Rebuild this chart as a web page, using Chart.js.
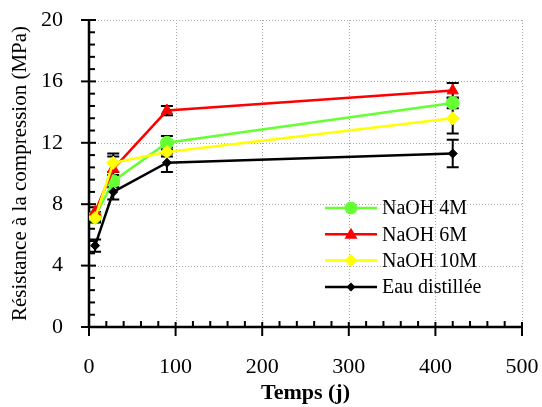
<!DOCTYPE html>
<html>
<head>
<meta charset="utf-8">
<script src="https://cdn.jsdelivr.net/npm/chart.js"></script>
<style>
    body { margin: 0; padding: 0; background: #ffffff; }
    #wrap { width: 542px; height: 407px; }
</style>
</head>
<body>
<div id="wrap"><canvas id="myChart" width="542" height="407"></canvas></div>
<script>
    // Temps de cure (jours)
    const days = [7, 28, 90, 420];

    // Résistance moyenne (MPa) et écarts
    const naoh4 = [7.2, 9.5, 12.0, 14.6];
    const naoh4Err = [0.3, 0.4, 0.45, 0.35];
    const naoh6 = [7.5, 10.3, 14.1, 15.4];
    const naoh6Err = [0.3, 0.8, 0.3, 0.5];
    const naoh10 = [7.1, 10.7, 11.4, 13.6];
    const naoh10Err = [0.3, 0.6, 0.3, 1.0];
    const eau = [5.3, 8.8, 10.7, 11.3];
    const eauErr = [0.4, 0.5, 0.6, 0.9];

    const xTicks = [0, 100, 200, 300, 400, 500];
    const yTicks = [0, 4, 8, 12, 16, 20];

    const FONT = "'Liberation Serif', 'Times New Roman', serif";

    function toPoints(ys) {
        return days.map((d, i) => ({ x: d, y: ys[i] }));
    }

    const series = [
        { label: 'NaOH 4M', data: naoh4, err: naoh4Err, color: 'rgb(102, 255, 51)', style: 'circle', r: 6.5, order: 4 },
        { label: 'NaOH 6M', data: naoh6, err: naoh6Err, color: 'rgb(255, 0, 0)', style: 'triangle', r: 6.5, order: 3 },
        { label: 'NaOH 10M', data: naoh10, err: naoh10Err, color: 'rgb(255, 255, 0)', style: 'rectRot', r: 6.5, order: 2 },
        { label: 'Eau distillée', data: eau, err: eauErr, color: 'rgb(0, 0, 0)', style: 'rectRot', r: 4.5, order: 1 }
    ];

    // Grid, axes with ticks, and error bars drawn under the lines
    const axesPlugin = {
        id: 'axesPlugin',
        beforeDatasetsDraw(chart) {
            const ctx = chart.ctx;
            const xs = chart.scales.x, ys = chart.scales.y;
            const a = chart.chartArea;
            ctx.save();

            // dotted grid
            ctx.strokeStyle = '#a8a8a8';
            ctx.lineWidth = 1;
            ctx.setLineDash([1, 2]);
            yTicks.forEach(v => {
                if (v === 0) return;
                const y = Math.round(ys.getPixelForValue(v)) + 0.5;
                ctx.beginPath(); ctx.moveTo(a.left, y); ctx.lineTo(a.right, y); ctx.stroke();
            });
            xTicks.forEach(v => {
                if (v === 0) return;
                const x = Math.round(xs.getPixelForValue(v)) + 0.5;
                ctx.beginPath(); ctx.moveTo(x, a.top); ctx.lineTo(x, a.bottom); ctx.stroke();
            });
            ctx.setLineDash([]);

            // axis lines
            ctx.strokeStyle = '#000';
            ctx.lineWidth = 2.5;
            const x0 = xs.getPixelForValue(0);
            const y0 = ys.getPixelForValue(0);
            ctx.beginPath(); ctx.moveTo(x0, a.top); ctx.lineTo(x0, y0); ctx.lineTo(a.right, y0); ctx.stroke();

            // y ticks: major every 4, minor every 0.8
            ctx.lineWidth = 2;
            for (let i = 0; i <= 25; i++) {
                const y = ys.getPixelForValue(i * 0.8);
                ctx.beginPath();
                if (i % 5 === 0) { ctx.moveTo(x0 - 8, y); ctx.lineTo(x0 + 7, y); }
                else { ctx.moveTo(x0, y); ctx.lineTo(x0 + 6, y); }
                ctx.stroke();
            }
            // x ticks: major every 100, minor every 20
            for (let i = 0; i <= 25; i++) {
                const x = xs.getPixelForValue(i * 20);
                ctx.beginPath();
                if (i % 5 === 0) { ctx.moveTo(x, y0 - 5); ctx.lineTo(x, y0 + 9); }
                else { ctx.moveTo(x, y0 - 6); ctx.lineTo(x, y0); }
                ctx.stroke();
            }

            // error bars
            ctx.lineWidth = 2;
            series.forEach(s => {
                s.data.forEach((v, i) => {
                    const x = xs.getPixelForValue(days[i]);
                    const yt = ys.getPixelForValue(v + s.err[i]);
                    const yb = ys.getPixelForValue(v - s.err[i]);
                    ctx.beginPath();
                    ctx.moveTo(x, yt); ctx.lineTo(x, yb);
                    ctx.moveTo(x - 6, yt); ctx.lineTo(x + 6, yt);
                    ctx.moveTo(x - 6, yb); ctx.lineTo(x + 6, yb);
                    ctx.stroke();
                });
            });
            ctx.restore();
        },
        afterDraw(chart) {
            // legend inside the plot
            const ctx = chart.ctx;
            ctx.save();
            const lx = 325, lw = 52, tx = 382;
            let ly = 208;
            ctx.font = '20px ' + FONT;
            ctx.textBaseline = 'middle';
            series.forEach(s => {
                ctx.strokeStyle = s.color;
                ctx.lineWidth = 2.5;
                ctx.beginPath(); ctx.moveTo(lx, ly); ctx.lineTo(lx + lw, ly); ctx.stroke();
                ctx.fillStyle = s.color;
                const cx = lx + lw / 2, r = s.r;
                ctx.beginPath();
                if (s.style === 'circle') {
                    ctx.arc(cx, ly, r, 0, Math.PI * 2);
                } else if (s.style === 'triangle') {
                    ctx.moveTo(cx, ly - r); ctx.lineTo(cx + r, ly + r * 0.7); ctx.lineTo(cx - r, ly + r * 0.7); ctx.closePath();
                } else {
                    ctx.moveTo(cx, ly - r); ctx.lineTo(cx + r, ly); ctx.lineTo(cx, ly + r); ctx.lineTo(cx - r, ly); ctx.closePath();
                }
                ctx.fill();
                ctx.fillStyle = '#000';
                ctx.fillText(s.label, tx, ly + 1);
                ly += 26.3;
            });
            ctx.restore();
        }
    };

    const data = {
        datasets: series.map(s => ({
            label: s.label,
            data: toPoints(s.data),
            borderColor: s.color,
            backgroundColor: s.color,
            pointBackgroundColor: s.color,
            pointBorderColor: s.color,
            pointStyle: s.style,
            pointRadius: s.r,
            pointBorderWidth: 1,
            borderWidth: 2.5,
            order: s.order,
            tension: 0
        }))
    };

    const config = {
        type: 'line',
        data: data,
        options: {
            responsive: false,
            animation: false,
            layout: { padding: { top: 20, right: 20, left: 8, bottom: 0 } },
            plugins: {
                legend: { display: false },
                tooltip: { enabled: false }
            },
            scales: {
                x: {
                    type: 'linear',
                    min: 0,
                    max: 500,
                    afterBuildTicks: axis => { axis.ticks = xTicks.map(v => ({ value: v })); },
                    afterFit: axis => { axis.height = 80; axis.paddingLeft = 0; axis.paddingRight = 0; },
                    grid: { display: false },
                    border: { display: false },
                    ticks: { color: '#000', font: { family: FONT, size: 22 }, padding: 19, maxRotation: 0 },
                    title: { display: true, text: 'Temps (j)', color: '#000', font: { family: FONT, size: 22, weight: 'bold' }, padding: { top: 0, bottom: 0 } }
                },
                y: {
                    type: 'linear',
                    min: 0,
                    max: 20,
                    afterBuildTicks: axis => { axis.ticks = yTicks.map(v => ({ value: v })); },
                    afterFit: axis => { axis.width = 81; axis.paddingTop = 0; axis.paddingBottom = 0; },
                    grid: { display: false },
                    border: { display: false },
                    ticks: { color: '#000', font: { family: FONT, size: 22 }, padding: 18 },
                    title: { display: true, text: 'Résistance à la compression (MPa)', color: '#000', font: { family: FONT, size: 21 }, padding: { top: 0, bottom: 0 } }
                }
            }
        },
        plugins: [axesPlugin]
    };

    const myChart = new Chart(document.getElementById('myChart'), config);
</script>
</body>
</html>
